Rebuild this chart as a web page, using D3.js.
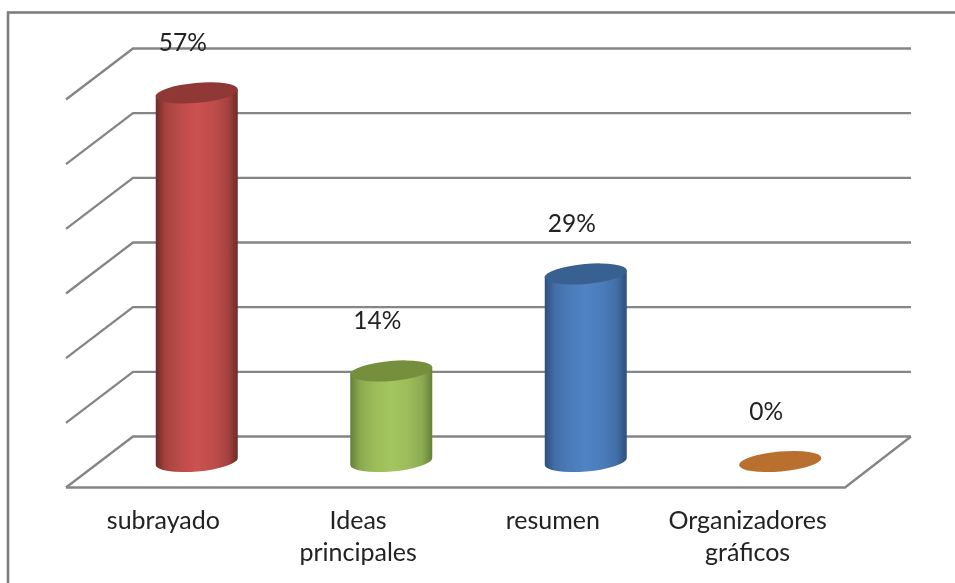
<!DOCTYPE html>
<html><head><meta charset="utf-8">
<script src="https://cdn.jsdelivr.net/npm/d3@7"></script>
<style>html,body{margin:0;padding:0;background:#fff;overflow:hidden}svg{display:block}text{font-family:Lato,"Open Sans",sans-serif;fill:#222}</style>
</head><body><svg id="c" width="955" height="583"></svg>
<script>
const categories = [["subrayado"],["Ideas","principales"],["resumen"],["Organizadores","gráficos"]];
const values = [57,14,29,0];
const labels = ["57%","14%","29%","0%"];
const yTicks = [0,10,20,30,40,50,60];
const edgeColors = ["#6e2b29","#65803a","#2c4f7c","#a8642a"];
const midColors = ["#cb5250","#a4c65f","#5083c4","#b9702f"];
const topColors = ["#8f3836","#748f3d","#386090","#b9702f"];

const svg = d3.select("#c");
const idx = d3.range(values.length);
const defs = svg.append("defs");
defs.append("filter").attr("id","soft").append("feGaussianBlur").attr("stdDeviation",0.55);
defs.append("filter").attr("id","softText").append("feGaussianBlur").attr("stdDeviation",0.35);

const backY = d3.scaleLinear().domain([0,60]).range([436.5,48.5]);
const barY = d3.scaleLinear().domain([0,60]).range([461.5,73.5]);
const x = d3.scaleBand().domain(idx).range([99.5,877.5]);
const xFront = d3.scaleBand().domain(idx).range([66,845]);
const backL=133, backR=911, frontL=66, frontR=845, depthY=51;

const root = svg.append("g").attr("filter","url(#soft)");
root.append("rect").attr("x",8).attr("y",12.5).attr("width",960).attr("height",600)
  .attr("fill","#fff").attr("stroke","#7e7e7e").attr("stroke-width",2.6);

const grid = root.append("g").attr("fill","none").attr("stroke","#858585").attr("stroke-width",2.3);
grid.selectAll("path.g").data(yTicks).join("path").attr("class","g")
  .attr("d",t=>`M${frontL},${backY(t)+depthY}L${backL},${backY(t)}L${backR},${backY(t)}`);
grid.append("path").attr("d",`M${backR},${backY(0)}L${frontR},${backY(0)+depthY}L${frontL},${backY(0)+depthY}`);

const rx=41, ry=10, rot=-5, dy=3.5;
idx.forEach(i=>{
  const g = defs.append("linearGradient").attr("id","g"+i);
  [[0,edgeColors[i]],[0.12,d3.interpolateRgb(edgeColors[i],midColors[i])(0.6)],[0.3,d3.interpolateRgb(edgeColors[i],midColors[i])(0.85)],[0.5,midColors[i]],[0.72,d3.interpolateRgb(edgeColors[i],midColors[i])(0.85)],[0.88,d3.interpolateRgb(edgeColors[i],midColors[i])(0.6)],[1,edgeColors[i]]]
    .forEach(s=>g.append("stop").attr("offset",s[0]).attr("stop-color",s[1]));
});
const bars = root.selectAll("g.bar").data(idx).join("g").attr("class","bar");
const cx = i=>x(i)+x.bandwidth()/2;
bars.filter(i=>values[i]>0).append("path").attr("fill",i=>`url(#g${i})`)
  .attr("d",i=>{const c=cx(i),b=barY(0),t=barY(values[i]);
    return `M${c-rx},${t+dy}L${c-rx},${b+dy}A${rx},${ry} ${rot} 0 0 ${c+rx},${b-dy}L${c+rx},${t-dy}Z`;});
bars.append("ellipse").attr("cx",cx).attr("cy",i=>barY(values[i])).attr("rx",rx+0.3).attr("ry",ry)
  .attr("fill",i=>topColors[i])
  .attr("transform",i=>`rotate(${rot} ${cx(i)} ${barY(values[i])})`);

const texts = svg.append("g").attr("filter","url(#softText)");
texts.selectAll("text.v").data(idx).join("text").attr("class","v")
  .attr("x",i=>cx(i)-14).attr("y",i=>barY(values[i])-42)
  .attr("text-anchor","middle").attr("font-size",24.5).text(i=>labels[i]);
const lab = texts.selectAll("text.l").data(idx).join("text").attr("class","l")
  .attr("text-anchor","middle").attr("font-size",25);
lab.selectAll("tspan").data(i=>categories[i].map(s=>({s,i}))).join("tspan")
  .attr("x",d=>xFront(d.i)+xFront.bandwidth()/2).attr("y",(d,j)=>529+j*32).text(d=>d.s);
</script></body></html>
